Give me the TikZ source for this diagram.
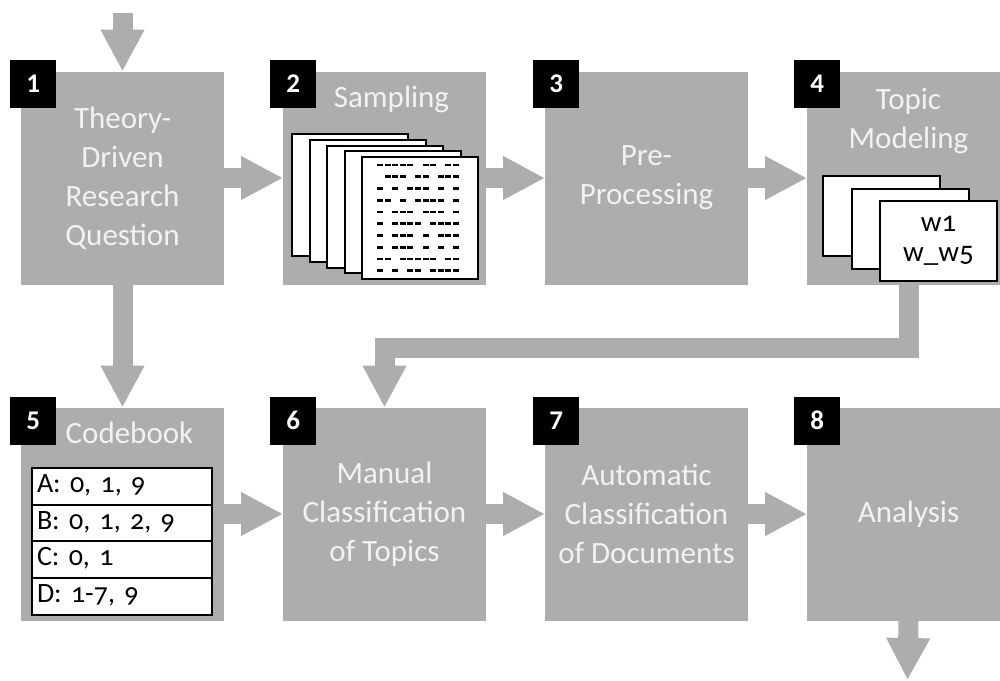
\documentclass[tikz,border=0pt]{standalone}
\usepackage{fontspec}
\setmainfont{Carlito}[Numbers=OldStyle]
\usetikzlibrary{arrows.meta,positioning}

\definecolor{boxgray}{HTML}{ADADAD}
\definecolor{labelwhite}{HTML}{F2F2F2}

\tikzset{
  stepbox/.style={fill=boxgray, minimum width=203pt, minimum height=213pt, inner sep=0pt, outer sep=0pt,
    text=labelwhite, align=center, font=\fontsize{31}{39}\selectfont},
  numbox/.style={fill=black, minimum width=46pt, minimum height=48pt, inner sep=0pt, text=white,
    font=\fontsize{27}{27}\selectfont\bfseries\addfontfeatures{Numbers=Lining}},
  boxtitle/.style={text=labelwhite, inner sep=0pt, align=center, font=\fontsize{31}{39}\selectfont},
  docsheet/.style={draw, fill=white, line width=2pt, minimum width=116pt, minimum height=122pt, inner sep=0pt},
  topiccard/.style={draw, fill=white, line width=2pt, minimum width=117pt, minimum height=80pt, inner sep=0pt,
    align=center, font=\fontsize{29}{30}\selectfont},
  coderow/.style={draw, fill=white, line width=2pt, outer sep=0pt, text width=170pt, inner xsep=5pt, inner ysep=0pt,
    minimum height=36.7pt, text height=17pt, text depth=5pt, align=left, font=\fontsize{28}{28}\selectfont},
  flowarrow/.style={boxgray, line width=20pt, line join=miter, -{Triangle[width=41pt,length=42pt]}}
}

\begin{document}
\begin{tikzpicture}[x=1pt, y=-1pt]
  \useasboundingbox (0,0) rectangle (1000,680);

  % steps
  \node[stepbox] (b1) at (122.5,178) {Theory-\\Driven\\Research\\Question};
  \node[stepbox, right=59pt of b1] (b2) {};
  \node[stepbox, right=59pt of b2] (b3) {Pre-\\Processing};
  \node[stepbox, right=59pt of b3] (b4) {};
  \node[stepbox, below=123pt of b1] (b5) {};
  \node[stepbox, right=59pt of b5] (b6) {Manual\\Classification\\of Topics};
  \node[stepbox, right=59pt of b6] (b7) {Automatic\\Classification\\of Documents};
  \node[stepbox, right=59pt of b7] (b8) {Analysis};

  % numbers
  \node[numbox, anchor=north west, xshift=-11pt, yshift=12pt] (n1) at (b1.north west) {1};
  \node[numbox, anchor=north west, xshift=-13pt, yshift=12pt] (n2) at (b2.north west) {2};
  \node[numbox, anchor=north west, xshift=-12pt, yshift=12pt] (n3) at (b3.north west) {3};
  \node[numbox, anchor=north west, xshift=-13pt, yshift=12pt] (n4) at (b4.north west) {4};
  \node[numbox, anchor=north west, xshift=-11pt, yshift=11pt] (n5) at (b5.north west) {5};
  \node[numbox, anchor=north west, xshift=-13pt, yshift=11pt] (n6) at (b6.north west) {6};
  \node[numbox, anchor=north west, xshift=-12pt, yshift=11pt] (n7) at (b7.north west) {7};
  \node[numbox, anchor=north west, xshift=-13pt, yshift=11pt] (n8) at (b8.north west) {8};

  % titles
  \node[boxtitle, anchor=base, xshift=7pt, yshift=-36pt] (t2) at (b2.north) {Sampling};
  \node[boxtitle, anchor=north, yshift=-16pt] (t4) at (b4.north) {Topic\\Modeling};
  \node[boxtitle, anchor=base, xshift=7pt, yshift=-36pt] (t5) at (b5.north) {Codebook};

  % sample documents
  \foreach \k in {0,...,4}
    \node[docsheet, anchor=north west] (p\k) at (291+17.5*\k, 133+5.75*\k) {};
  \foreach \pat [count=\r] in {{1,1,1,1,1,0,1,1,0,1,1},{0,1,1,1,0,1,1,0,1,1,1},{1,0,1,0,1,1,1,0,1,0,1},
      {1,1,0,1,0,1,1,1,1,0,1},{1,0,1,1,1,0,1,1,1,0,1},{1,0,1,1,1,1,0,1,1,1,1},{1,0,1,1,1,0,1,0,1,1,1},
      {1,0,1,1,1,0,1,0,1,0,1},{1,1,0,1,1,1,1,1,0,1,1},{1,0,1,0,1,1,0,1,1,1,1}}
    \foreach \d [count=\c] in \pat {
      \ifnum\d=1 \fill ({377+7.6*(\c-1)},{163.6+11.75*(\r-1)}) rectangle +(6,2.8); \fi
    }

  % topics
  \node[topiccard, anchor=north west] (q1) at (822,175) {};
  \node[topiccard, anchor=north west] (q2) at (850.5,187.5) {};
  \node[topiccard, anchor=north west] (q3) at (879,200) {w1\\w\_w5};

  % codebook
  \node[coderow, anchor=north west] (cb1) at (32,468) {A: 0, 1, 9};
  \node[coderow, below=0pt of cb1] (cb2) {B: 0, 1, 2, 9};
  \node[coderow, below=0pt of cb2] (cb3) {C: 0, 1};
  \node[coderow, below=0pt of cb3] (cb4) {D: 1-7, 9};

  % arrows
  \coordinate (start) at (122.5,13);
  \coordinate (finish) at (907.5,680);
  \draw[flowarrow] (start) -- (b1.north);
  \draw[flowarrow] (b1.east) -- (b2.west);
  \draw[flowarrow] (b2.east) -- (b3.west);
  \draw[flowarrow] (b3.east) -- (b4.west);
  \draw[flowarrow] (b1.south) -- (b5.north);
  \draw[flowarrow] (b4.south) -- ++(0,63) -| (b6.north);
  \draw[flowarrow] (b5.east) -- (b6.west);
  \draw[flowarrow] (b6.east) -- (b7.west);
  \draw[flowarrow] (b7.east) -- (b8.west);
  \draw[flowarrow] (b8.south) -- (finish);
\end{tikzpicture}
\end{document}
